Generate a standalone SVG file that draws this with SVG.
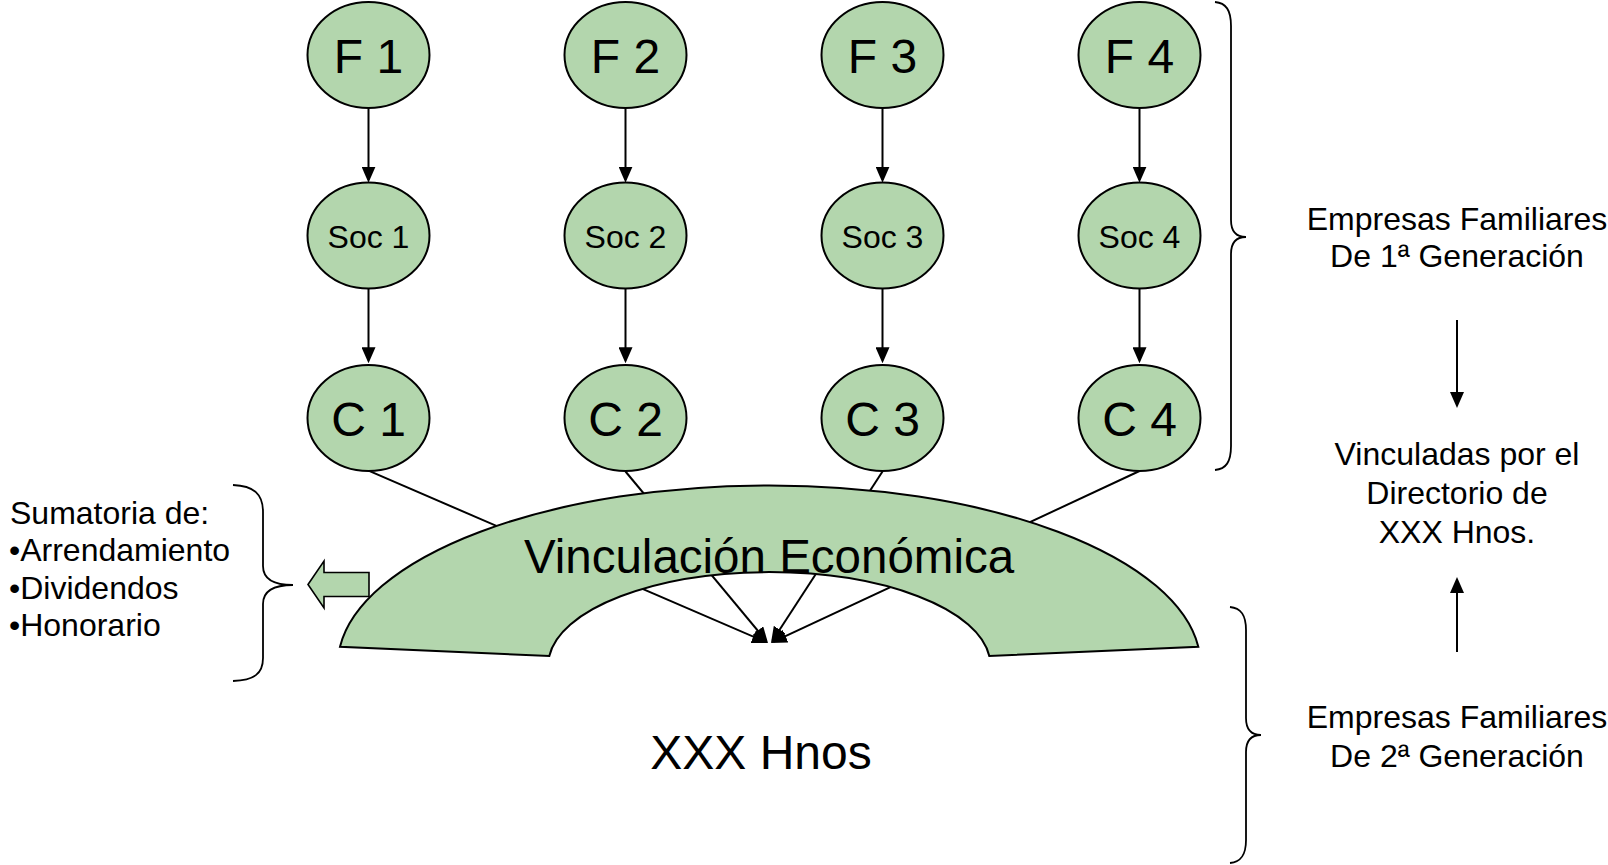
<svg xmlns="http://www.w3.org/2000/svg" width="1608" height="865" viewBox="0 0 1608 865">
<style>
.node{fill:#b3d6ad;stroke:#000;stroke-width:2}
.t{font-family:"Liberation Sans",Arial,sans-serif;fill:#000}
.big{font-size:48px;text-anchor:middle}
.soc{font-size:32px;text-anchor:middle}
.side{font-size:32px}
.mid{text-anchor:middle}
.edge{stroke:#000;stroke-width:2;fill:none;marker-end:url(#ah)}
.brace{stroke:#000;stroke-width:1.8;fill:none}
</style>
<defs>
<marker id="ah" viewBox="0 0 16 14" refX="13" refY="7" markerWidth="16" markerHeight="14" markerUnits="userSpaceOnUse" orient="auto">
<path d="M0,0 L16,7 L0,14 Z" fill="#000"/>
</marker>
</defs>
<rect width="1608" height="865" fill="#fff"/>

<g id="connectors">
<line class="edge" x1="368.5" y1="108.5" x2="368.5" y2="179.7"/>
<line class="edge" x1="625.5" y1="108.5" x2="625.5" y2="179.7"/>
<line class="edge" x1="882.5" y1="108.5" x2="882.5" y2="179.7"/>
<line class="edge" x1="1139.5" y1="108.5" x2="1139.5" y2="179.7"/>
<line class="edge" x1="368.5" y1="288.5" x2="368.5" y2="360.3"/>
<line class="edge" x1="625.5" y1="288.5" x2="625.5" y2="360.3"/>
<line class="edge" x1="882.5" y1="288.5" x2="882.5" y2="360.3"/>
<line class="edge" x1="1139.5" y1="288.5" x2="1139.5" y2="360.3"/>
<line class="edge" x1="368.5" y1="470.7" x2="765.2" y2="641.8"/>
<line class="edge" x1="625.5" y1="471.5" x2="766.1" y2="640.7"/>
<line class="edge" x1="882.5" y1="471.5" x2="772.6" y2="640.5"/>
<line class="edge" x1="1139.5" y1="471" x2="773.7" y2="641.7"/>
<line class="edge" x1="1457" y1="320" x2="1457" y2="405"/>
<line class="edge" x1="1457" y1="652" x2="1457" y2="580"/>
</g>

<g id="F1"><ellipse class="node" cx="368.5" cy="55" rx="61" ry="53"/><text class="t big" x="368.5" y="72.5">F 1</text></g>
<g id="F2"><ellipse class="node" cx="625.5" cy="55" rx="61" ry="53"/><text class="t big" x="625.5" y="72.5">F 2</text></g>
<g id="F3"><ellipse class="node" cx="882.5" cy="55" rx="61" ry="53"/><text class="t big" x="882.5" y="72.5">F 3</text></g>
<g id="F4"><ellipse class="node" cx="1139.5" cy="55" rx="61" ry="53"/><text class="t big" x="1139.5" y="72.5">F 4</text></g>

<g id="Soc1"><ellipse class="node" cx="368.5" cy="235.5" rx="61" ry="53"/><text class="t soc" x="368.5" y="247.5">Soc 1</text></g>
<g id="Soc2"><ellipse class="node" cx="625.5" cy="235.5" rx="61" ry="53"/><text class="t soc" x="625.5" y="247.5">Soc 2</text></g>
<g id="Soc3"><ellipse class="node" cx="882.5" cy="235.5" rx="61" ry="53"/><text class="t soc" x="882.5" y="247.5">Soc 3</text></g>
<g id="Soc4"><ellipse class="node" cx="1139.5" cy="235.5" rx="61" ry="53"/><text class="t soc" x="1139.5" y="247.5">Soc 4</text></g>

<g id="C1"><ellipse class="node" cx="368.5" cy="418" rx="61" ry="53"/><text class="t big" x="368.5" y="435.5">C 1</text></g>
<g id="C2"><ellipse class="node" cx="625.5" cy="418" rx="61" ry="53"/><text class="t big" x="625.5" y="435.5">C 2</text></g>
<g id="C3"><ellipse class="node" cx="882.5" cy="418" rx="61" ry="53"/><text class="t big" x="882.5" y="435.5">C 3</text></g>
<g id="C4"><ellipse class="node" cx="1139.5" cy="418" rx="61" ry="53"/><text class="t big" x="1139.5" y="435.5">C 4</text></g>

<g id="vinculacion">
<path class="node" d="M340,646.7 A431.5,180 0 0 1 1198.3,646.7 L989.3,656 A221,92.7 0 0 0 549.3,656 Z"/>
<text class="t mid" x="769" y="573" style="font-size:47.5px">Vinculación Económica</text>
</g>

<g id="flecha-izq">
<polygon class="node" points="308,584.5 324,561 324,572.5 369,572.5 369,596.5 324,596.5 324,608" style="stroke-width:1.6"/>
</g>

<g id="sumatoria">
<text class="t side" x="10" y="523.5">Sumatoria de:</text>
<text class="t side" x="9" y="561">•Arrendamiento</text>
<text class="t side" x="9" y="598.5">•Dividendos</text>
<text class="t side" x="9" y="636">•Honorario</text>
<path class="brace" d="M233,485 C254,486 263,494 263,512 L263,566 C263,578 272,585 293,585 C272,585 263,592 263,604 L263,658 C263,674 254,680 233,681"/>
</g>

<g id="xxx-hnos">
<text class="t big" x="761" y="769">XXX Hnos</text>
</g>

<g id="generacion1">
<path class="brace" d="M1215,2 C1226,3 1231,10 1231,26 L1231,220 C1231,231 1236,237 1246,237 C1236,237 1231,243 1231,254 L1231,446 C1231,462 1226,469 1215,470"/>
<text class="t side mid" x="1457" y="229.5">Empresas Familiares</text>
<text class="t side mid" x="1457" y="267">De 1ª Generación</text>
</g>

<g id="directorio">
<text class="t side mid" x="1457" y="465">Vinculadas por el</text>
<text class="t side mid" x="1457" y="503.5">Directorio de</text>
<text class="t side mid" x="1457" y="542.5">XXX Hnos.</text>
</g>

<g id="generacion2">
<path class="brace" d="M1230,607 C1241,608 1246,615 1246,630 L1246,718 C1246,729 1251,735 1261,735 C1251,735 1246,741 1246,752 L1246,840 C1246,855 1241,862 1230,863"/>
<text class="t side mid" x="1457" y="727.5">Empresas Familiares</text>
<text class="t side mid" x="1457" y="766.5">De 2ª Generación</text>
</g>
</svg>
